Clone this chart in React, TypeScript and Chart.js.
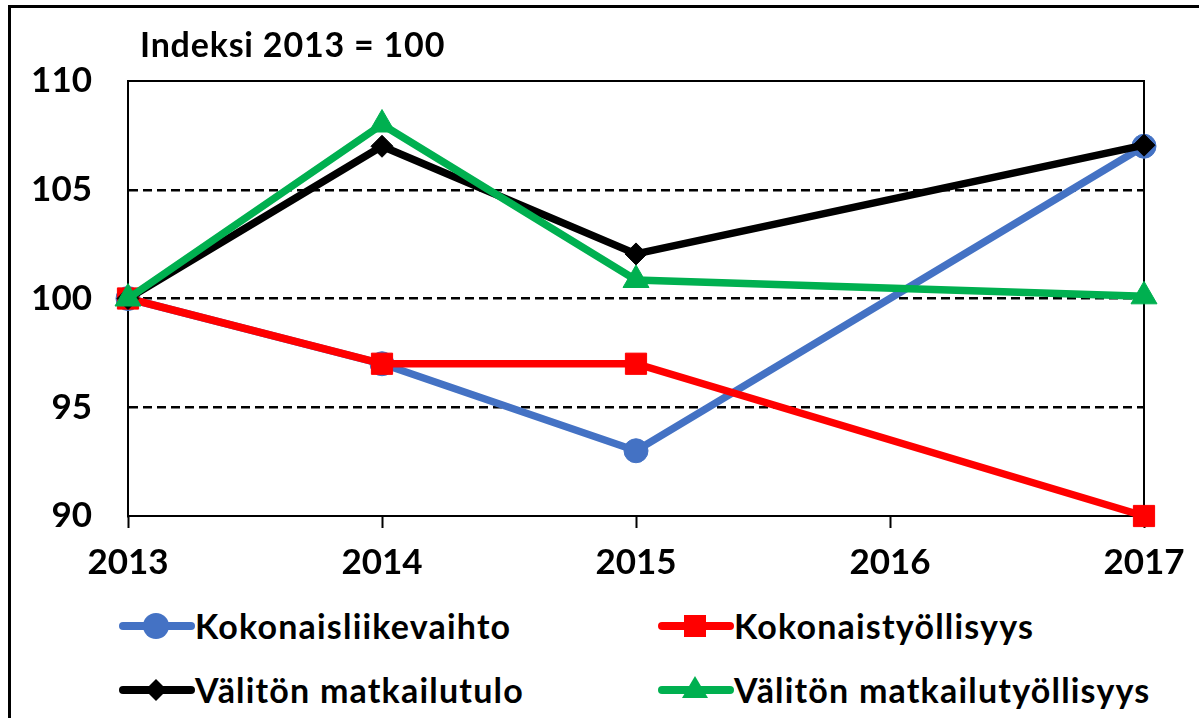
import React, { useEffect, useRef } from 'react';
import { Chart, registerables } from 'chart.js';

Chart.register(...registerables);

const years = [2013, 2014, 2015, 2017];
const xTickValues = [2013, 2014, 2015, 2016, 2017];
const yTickValues = [90, 95, 100, 105, 110];
const kokonaisliikevaihto = [100, 97, 93, 107];
const kokonaistyollisyys = [100, 97, 97, 90];
const valitonMatkailutulo = [100, 107, 102.05, 107.05];
const valitonMatkailutyollisyys = [100, 108, 100.85, 100.1];
const seriesNames = ['Kokonaisliikevaihto', 'Kokonaistyöllisyys', 'Välitön matkailutulo', 'Välitön matkailutyöllisyys'];
const seriesColors = ['#4472C4', '#FF0000', '#000000', '#00B050'];
const titleText = 'Indeksi 2013 = 100';

const FONT = 'Lato, "Open Sans", sans-serif';

const framePlugin = {
  id: 'frame',
  beforeDatasetsDraw(chart: any) {
    const { ctx, chartArea } = chart;
    ctx.save();
    ctx.strokeStyle = '#000';
    ctx.lineWidth = 2;
    ctx.beginPath();
    ctx.moveTo(chartArea.left, chartArea.top);
    ctx.lineTo(chartArea.right, chartArea.top);
    ctx.lineTo(chartArea.right, chartArea.bottom);
    ctx.stroke();
    ctx.restore();
  },
};

function LegendIcon({ color, kind }: { color: string; kind: string }) {
  const cx = 37;
  const cy = 15;
  let marker: React.ReactNode = null;
  if (kind === 'circle') marker = <circle cx={cx} cy={cy} r={13} fill={color} />;
  if (kind === 'rect') marker = <rect x={cx - 11} y={cy - 11} width={22} height={22} fill={color} />;
  if (kind === 'rectRot') marker = <polygon points={`${cx},${cy - 11} ${cx + 11},${cy} ${cx},${cy + 11} ${cx - 11},${cy}`} fill={color} />;
  if (kind === 'triangle') marker = <polygon points={`${cx},${cy - 14} ${cx + 13},${cy + 8} ${cx - 13},${cy + 8}`} fill={color} />;
  return (
    <svg width={76} height={30} style={{ display: 'block', flex: '0 0 auto' }}>
      <line x1={4} y1={cy} x2={72} y2={cy} stroke={color} strokeWidth={8} strokeLinecap="round" />
      {marker}
    </svg>
  );
}

export default function App() {
  const canvasRef = useRef<HTMLCanvasElement | null>(null);

  useEffect(() => {
    if (!canvasRef.current) return;
    const series = [kokonaisliikevaihto, kokonaistyollisyys, valitonMatkailutulo, valitonMatkailutyollisyys];
    const styles = ['circle', 'rect', 'rectRot', 'triangle'];
    const radii = [12, 15, 11, 15];
    const orders = [3, 2, 1, 0];
    const chart = new Chart(canvasRef.current, {
      type: 'line',
      data: {
        datasets: series.map((arr, i) => ({
          label: seriesNames[i],
          data: years.map((x, j) => ({ x, y: arr[j] })),
          borderColor: seriesColors[i],
          backgroundColor: seriesColors[i],
          borderWidth: 7.5,
          pointStyle: styles[i] as any,
          pointRadius: radii[i],
          pointHoverRadius: radii[i],
          pointBackgroundColor: seriesColors[i],
          pointBorderColor: seriesColors[i],
          pointBorderWidth: 1,
          tension: 0,
          fill: false,
          clip: false as any,
          order: orders[i],
        })),
      },
      options: {
        animation: false,
        responsive: false,
        devicePixelRatio: 1,
        layout: { padding: { left: 0, top: 81, right: 55, bottom: 0 } },
        plugins: {
          legend: { display: false },
          title: { display: false },
          tooltip: { enabled: false },
        },
        scales: {
          x: {
            type: 'linear',
            min: 2013,
            max: 2017,
            afterBuildTicks: (scale: any) => {
              scale.ticks = xTickValues.map((v) => ({ value: v }));
            },
            afterFit: (scale: any) => {
              scale.height = 84;
            },
            ticks: {
              color: '#000',
              font: { family: FONT, size: 35, weight: 'bold' },
              padding: 14,
              maxRotation: 0,
              callback: (v: any) => String(v),
            },
            grid: {
              drawOnChartArea: false,
              drawTicks: true,
              tickLength: 12,
              tickColor: '#000',
              tickWidth: 2,
            },
            border: { color: '#000', width: 2 },
          },
          y: {
            type: 'linear',
            min: 90,
            max: 110,
            afterBuildTicks: (scale: any) => {
              scale.ticks = yTickValues.map((v) => ({ value: v }));
            },
            afterFit: (scale: any) => {
              scale.width = 128;
            },
            ticks: {
              color: '#000',
              font: { family: FONT, size: 35, weight: 'bold' },
              padding: 36,
              callback: (v: any) => String(v),
            },
            grid: {
              drawTicks: false,
              lineWidth: 2.5,
              color: (ctx: any) => {
                const v = ctx.tick ? ctx.tick.value : null;
                return v === 90 || v === 110 ? 'rgba(0,0,0,0)' : '#000';
              },
            },
            border: { color: '#000', width: 2, dash: [9, 5] },
          },
        },
      },
      plugins: [framePlugin],
    });
    return () => chart.destroy();
  }, []);

  const legendPos = [
    { left: 119, top: 611 },
    { left: 658, top: 611 },
    { left: 119, top: 675 },
    { left: 658, top: 675 },
  ];
  const kinds = ['circle', 'rect', 'rectRot', 'triangle'];

  return (
    <div style={{ position: 'absolute', left: 0, top: 0, width: 1199, height: 718, overflow: 'hidden', background: '#fff' }}>
      <div style={{ position: 'absolute', left: 8, top: 5, width: 1300, height: 800, border: '3px solid #000', boxSizing: 'border-box' }} />
      <canvas ref={canvasRef} width={1199} height={600} style={{ position: 'absolute', left: 0, top: 0, display: 'block' }} />
      <div style={{ position: 'absolute', left: 140, top: 27, fontFamily: FONT, fontWeight: 'bold', fontSize: 34, lineHeight: '34px', letterSpacing: '0.8px', color: '#000', whiteSpace: 'nowrap' }}>
        {titleText}
      </div>
      {seriesNames.map((name, i) => (
        <div key={name} style={{ position: 'absolute', left: legendPos[i].left, top: legendPos[i].top, height: 30, display: 'flex', alignItems: 'center' }}>
          <LegendIcon color={seriesColors[i]} kind={kinds[i]} />
          <span style={{ fontFamily: FONT, fontWeight: 'bold', fontSize: 34, lineHeight: '30px', letterSpacing: '1.2px', color: '#000', whiteSpace: 'nowrap' }}>{name}</span>
        </div>
      ))}
    </div>
  );
}
